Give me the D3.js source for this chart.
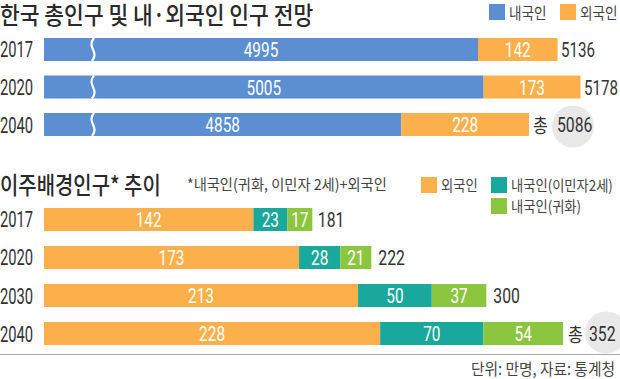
<!DOCTYPE html>
<html>
<head>
<meta charset="utf-8">
<script src="https://cdn.jsdelivr.net/npm/d3@7"></script>
<style>
  html, body { margin: 0; padding: 0; background: #fff; }
  svg { display: block; }
</style>
</head>
<body>
<svg id="chart" width="620" height="379"></svg>
<script>
// ---------- DATA ----------
const topYears = ["2017", "2020", "2040"];
const natives = [4995, 5005, 4858];
const foreigners = [142, 173, 228];
const totals = [5136, 5178, 5086];

const bottomYears = ["2017", "2020", "2030", "2040"];
const foreignersB = [142, 173, 213, 228];
const secondGen = [23, 28, 50, 70];
const naturalized = [17, 21, 37, 54];
const totalsB = [181, 222, 300, 352];

const topTitle = "한국 총인구 및 내·외국인 인구 전망";
const bottomTitle = "이주배경인구* 추이";
const bottomNote = "*내국인(귀화, 이민자 2세)+외국인";
const topLegend = ["내국인", "외국인"];
const bottomLegend = ["외국인", "내국인(이민자2세)", "내국인(귀화)"];
const sourceText = "단위: 만명, 자료: 통계청";
const totalPrefix = "총";

// ---------- STYLE ----------
const C = { blue: "#5b8fd2", orange: "#fcb04b", teal: "#1ba89c", green: "#8cc63f", text: "#333", title: "#2a2a2a" };
const KR = "'Noto Sans CJK KR', 'Noto Sans', sans-serif";
const NUM = "Roboto, 'Liberation Sans', sans-serif";

const svg = d3.select("#chart");

function condense(sel, k) {
  sel.each(function () {
    const w = this.getComputedTextLength();
    if (w > 0) {
      d3.select(this).attr("textLength", w * k).attr("lengthAdjust", "spacingAndGlyphs");
    }
  });
  return sel;
}
function label(g, x, y, txt, opts) {
  const t = g.append("text")
    .attr("x", x).attr("y", y)
    .attr("font-family", opts.family || NUM)
    .attr("font-size", opts.size || 20)
    .attr("font-weight", opts.weight || 400)
    .attr("fill", opts.fill || C.text)
    .attr("text-anchor", opts.anchor || "start")
    .text(txt);
  condense(t, opts.k || 1);
  return t;
}

// ---------- TOP CHART ----------
const topAxisStart = 4220;
const xTop = d3.scaleLinear().domain([topAxisStart, 5178]).range([44, 580.5]);
const yTop = d3.scaleBand().domain(topYears).range([38, 136]).paddingInner(0.387).paddingOuter(0);

label(svg, 0, 24, topTitle, { family: KR, size: 24, weight: 500, fill: C.title, k: 0.895 });

// top legend
const tl = svg.append("g");
[[C.blue, topLegend[0], 489], [C.orange, topLegend[1], 560]].forEach(([c, t, x]) => {
  tl.append("rect").attr("x", x).attr("y", 4).attr("width", 16).attr("height", 16).attr("fill", c);
  label(tl, x + 20, 19, t, { family: KR, size: 16, k: 0.85, fill: "#444" });
});

const gTop = svg.append("g");
topYears.forEach((yr, i) => {
  const y = yTop(yr), h = yTop.bandwidth(), cy = y + h / 2;
  const x0 = xTop.range()[0];
  const x1 = xTop(natives[i]);
  const x2 = xTop(natives[i] + foreigners[i]);
  label(gTop, 0, cy + 8, yr, { size: 22.5, k: 0.655 });
  gTop.append("rect").attr("x", x0).attr("y", y).attr("width", x1 - x0).attr("height", h).attr("fill", C.blue);
  gTop.append("rect").attr("x", x1).attr("y", y).attr("width", x2 - x1).attr("height", h).attr("fill", C.orange);
  // break mark
  const bx = x0 + 49;
  gTop.append("path")
    .attr("d", `M${bx + 1},${y} C${bx - 7},${y + h * 0.4} ${bx + 7},${y + h * 0.6} ${bx - 1},${y + h}`)
    .attr("fill", "none").attr("stroke", "#fff").attr("stroke-width", 2.2);
  label(gTop, (x0 + x1) / 2, cy + 7.5, natives[i], { size: 20.5, k: 0.75, fill: "#fff", anchor: "middle" });
  label(gTop, (x1 + x2) / 2, cy + 7.5, foreigners[i], { size: 20.5, k: 0.75, fill: "#fff", anchor: "middle" });
  if (i === topYears.length - 1) {
    const tx = x2 + 4;
    gTop.insert("circle", ":first-child").attr("cx", tx + 40).attr("cy", cy + 2).attr("r", 21).attr("fill", "#e8e8e8");
    label(gTop, tx, cy + 8, totalPrefix, { family: KR, size: 19, k: 0.85 });
    label(gTop, tx + 24, cy + 7.5, totals[i], { size: 21, k: 0.75 });
  } else {
    label(gTop, x2 + 3.5, cy + 7.5, totals[i], { size: 21, k: 0.72 });
  }
});

// ---------- BOTTOM CHART ----------
const xBot = d3.scaleLinear().domain([0, 352]).range([44, 563]);
const yBot = d3.scaleBand().domain(bottomYears).range([208, 345]).paddingInner(0.395).paddingOuter(0);

label(svg, 0, 194, bottomTitle, { family: KR, size: 24, weight: 500, fill: C.title, k: 0.83 });
label(svg, 187, 189.5, bottomNote, { family: KR, size: 15, k: 0.95, fill: "#444" });

const bl = svg.append("g");
[[C.orange, bottomLegend[0], 421, 177], [C.teal, bottomLegend[1], 491, 177], [C.green, bottomLegend[2], 491, 198]].forEach(([c, t, x, y]) => {
  bl.append("rect").attr("x", x).attr("y", y).attr("width", 16).attr("height", 16).attr("fill", c);
  label(bl, x + 20, y + 14, t, { family: KR, size: 15, k: 0.885, fill: "#444" });
});

const gBot = svg.append("g");
bottomYears.forEach((yr, i) => {
  const y = yBot(yr), h = yBot.bandwidth(), cy = y + h / 2;
  const segs = [
    [0, foreignersB[i], C.orange],
    [foreignersB[i], foreignersB[i] + secondGen[i], C.teal],
    [foreignersB[i] + secondGen[i], foreignersB[i] + secondGen[i] + naturalized[i], C.green]
  ];
  const vals = [foreignersB[i], secondGen[i], naturalized[i]];
  label(gBot, 0, cy + 8, yr, { size: 22.5, k: 0.655 });
  segs.forEach(([a, b, c], j) => {
    gBot.append("rect").attr("x", xBot(a)).attr("y", y).attr("width", xBot(b) - xBot(a)).attr("height", h).attr("fill", c);
    label(gBot, (xBot(a) + xBot(b)) / 2, cy + 7.5, vals[j], { size: 20.5, k: 0.75, fill: "#fff", anchor: "middle" });
  });
  const xe = xBot(totalsB[i]);
  if (i === bottomYears.length - 1) {
    const tx = xe + 5;
    gBot.insert("circle", ":first-child").attr("cx", tx + 38).attr("cy", cy - 1).attr("r", 21).attr("fill", "#e8e8e8");
    label(gBot, tx, cy + 8, totalPrefix, { family: KR, size: 19, k: 0.85 });
    label(gBot, tx + 21, cy + 7.5, totalsB[i], { size: 21, k: 0.75 });
  } else {
    label(gBot, xe + 7, cy + 7.5, totalsB[i], { size: 21, k: 0.75 });
  }
});

// bottom rule and source
svg.append("line").attr("x1", 0).attr("x2", 620).attr("y1", 354.5).attr("y2", 354.5).attr("stroke", "#aaa").attr("stroke-width", 1);
label(svg, 615, 375, sourceText, { family: KR, size: 16, k: 0.92, fill: "#444", anchor: "end" });
</script>
</body>
</html>
